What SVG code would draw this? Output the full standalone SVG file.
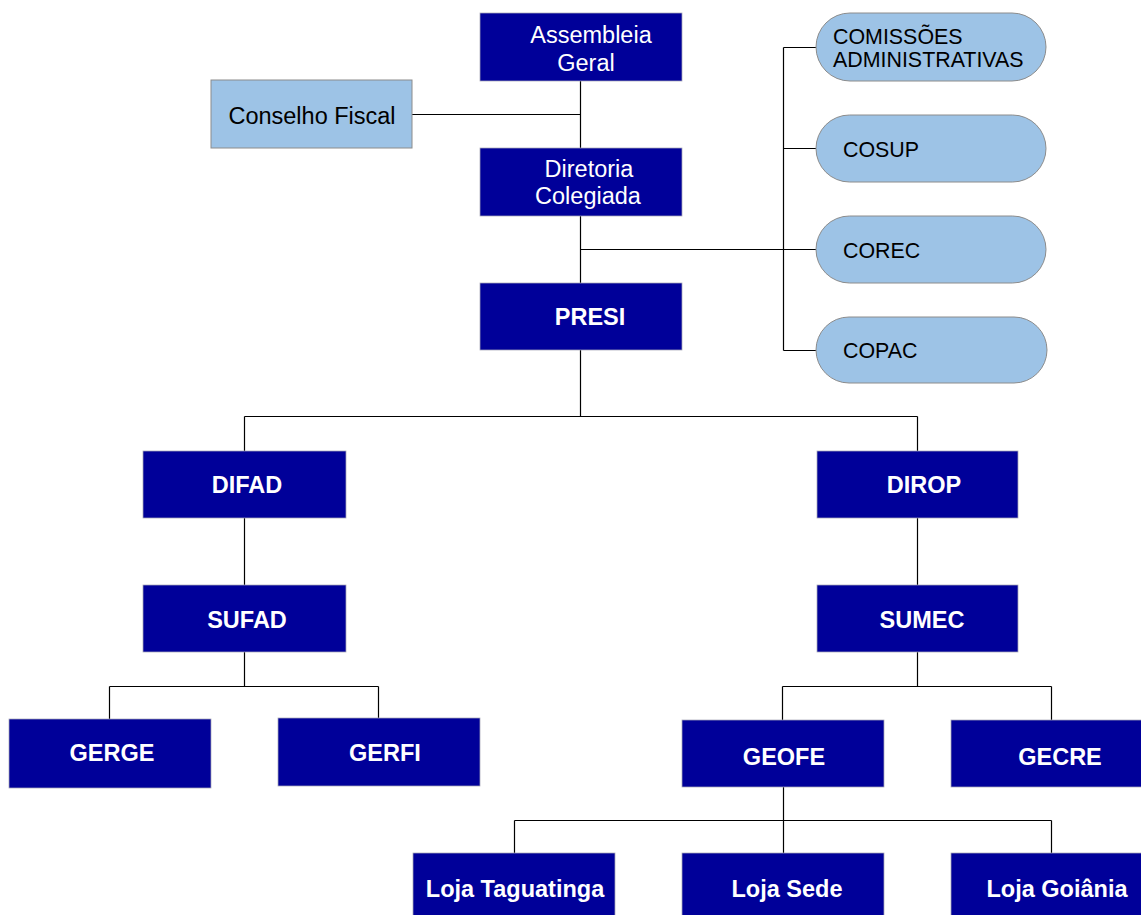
<svg xmlns="http://www.w3.org/2000/svg" width="1141" height="915" viewBox="0 0 1141 915">
<style>
.box{fill:#000099;stroke:#a8a8b8;stroke-width:0.75}
.lb{fill:#9DC3E6;stroke:#8c8c8c;stroke-width:1}
.w{fill:#ffffff;font-family:"Liberation Sans",Arial,sans-serif;font-size:23.5px;text-anchor:middle}
.wb{fill:#ffffff;font-family:"Liberation Sans",Arial,sans-serif;font-size:23.5px;font-weight:bold;text-anchor:middle}
.k{fill:#000000;font-family:"Liberation Sans",Arial,sans-serif;font-size:23.5px;text-anchor:middle}
.ks{fill:#000000;font-family:"Liberation Sans",Arial,sans-serif;font-size:21.4px}
.c{fill:none;stroke:#000000;stroke-width:1.2}
</style>
<rect width="1141" height="915" fill="#ffffff"/>
<g id="connectors">
<path class="c" d="M580.5 81V148M412 114.5H580.5"/>
<path class="c" d="M580.5 216V283M580.5 249.5H817"/>
<path class="c" d="M783.5 47.5V350.5M783.5 47.5H817M783.5 148.5H817M783.5 350.5H817"/>
<path class="c" d="M580.5 350V416.5M244.5 416.5H917.5M244.5 416.5V451M917.5 416.5V451"/>
<path class="c" d="M244.5 518V585M917.5 518V585"/>
<path class="c" d="M244.5 652V686.5M109.5 686.5H378.5M109.5 686.5V719M378.5 686.5V718"/>
<path class="c" d="M917.5 652V686.5M782.5 686.5H1051.5M782.5 686.5V720M1051.5 686.5V720"/>
<path class="c" d="M783.5 787V820.5M514.5 820.5H1051.5M514.5 820.5V853M783.5 820.5V853M1051.5 820.5V853"/>
</g>
<g id="assembleia"><rect class="box" x="480" y="13" width="202" height="68"/><text class="w" x="591" y="43">Assembleia</text><text class="w" x="586" y="71">Geral</text></g>
<g id="conselho"><rect class="lb" x="211" y="80" width="201" height="68"/><text class="k" x="312" y="124">Conselho Fiscal</text></g>
<g id="diretoria"><rect class="box" x="480" y="148" width="202" height="68"/><text class="w" x="589" y="177">Diretoria</text><text class="w" x="588" y="204">Colegiada</text></g>
<g id="presi"><rect class="box" x="480" y="283" width="202" height="67"/><text class="wb" x="590" y="325">PRESI</text></g>
<g id="comissoes"><rect class="lb" x="816" y="13" width="230" height="68" rx="34"/><text class="ks" x="833" y="44">COMISSÕES</text><text class="ks" x="833" y="67">ADMINISTRATIVAS</text></g>
<g id="cosup"><rect class="lb" x="816" y="115" width="230" height="67" rx="33.5"/><text class="ks" x="843" y="157">COSUP</text></g>
<g id="corec"><rect class="lb" x="816" y="216" width="230" height="67" rx="33.5"/><text class="ks" x="843" y="258">COREC</text></g>
<g id="copac"><rect class="lb" x="816" y="317" width="231" height="66" rx="33"/><text class="ks" x="843" y="358">COPAC</text></g>
<g id="difad"><rect class="box" x="143" y="451" width="203" height="67"/><text class="wb" x="247" y="493">DIFAD</text></g>
<g id="dirop"><rect class="box" x="817" y="451" width="201" height="67"/><text class="wb" x="924" y="493">DIROP</text></g>
<g id="sufad"><rect class="box" x="143" y="585" width="203" height="67"/><text class="wb" x="247" y="628">SUFAD</text></g>
<g id="sumec"><rect class="box" x="817" y="585" width="201" height="67"/><text class="wb" x="922" y="628">SUMEC</text></g>
<g id="gerge"><rect class="box" x="9" y="719" width="202" height="69"/><text class="wb" x="112" y="761">GERGE</text></g>
<g id="gerfi"><rect class="box" x="278" y="718" width="202" height="68"/><text class="wb" x="385" y="761">GERFI</text></g>
<g id="geofe"><rect class="box" x="682" y="720" width="202" height="67"/><text class="wb" x="784" y="765">GEOFE</text></g>
<g id="gecre"><rect class="box" x="951" y="720" width="202" height="67"/><text class="wb" x="1060" y="765">GECRE</text></g>
<g id="taguatinga"><rect class="box" x="413" y="853" width="202" height="68"/><text class="wb" x="515" y="897">Loja Taguatinga</text></g>
<g id="sede"><rect class="box" x="682" y="853" width="202" height="68"/><text class="wb" x="787" y="897">Loja Sede</text></g>
<g id="goiania"><rect class="box" x="951" y="853" width="202" height="68"/><text class="wb" x="1057" y="897">Loja Goiânia</text></g>
</svg>
